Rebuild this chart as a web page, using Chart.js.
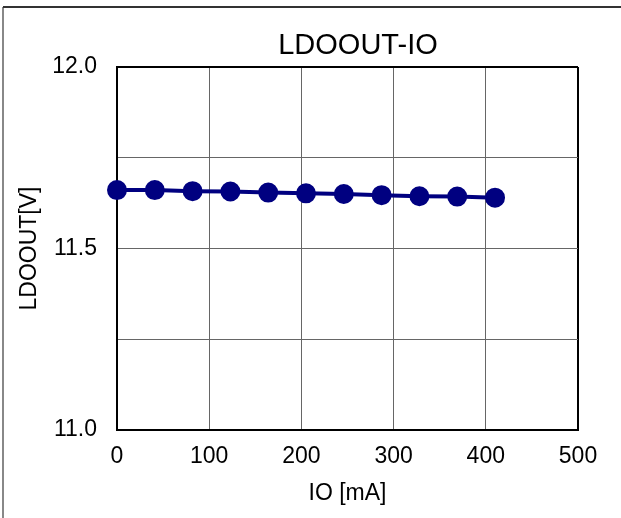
<!DOCTYPE html>
<html>
<head>
<meta charset="utf-8">
<script src="https://cdn.jsdelivr.net/npm/chart.js@4.4.1/dist/chart.umd.min.js"></script>
<style>
  body { margin: 0; background: #fff; }
  canvas { display: block; }
</style>
</head>
<body>
<canvas id="chart" width="621" height="518"></canvas>
<script>
const ioCurrent = [0, 41, 82, 123, 164, 205, 246, 287, 328, 369, 410];
const ldoOut = [11.661, 11.661, 11.658, 11.657, 11.654, 11.652, 11.650, 11.647, 11.644, 11.643, 11.640];
const yTickLabels = ['11.0', '11.5', '12.0'];
const chartTitle = 'LDOOUT-IO';

const FONT = "'Liberation Sans', Arial, sans-serif";
const navy = '#000080';

// frame round the figure + title text
const framePlugin = {
    id: 'frame',
    beforeDraw(chart) {
        const ctx = chart.ctx;
        ctx.save();
        ctx.lineWidth = 2;
        ctx.strokeStyle = '#888';
        ctx.beginPath();
        ctx.moveTo(3, 7);
        ctx.lineTo(3, 518);
        ctx.stroke();
        ctx.strokeStyle = '#333';
        ctx.beginPath();
        ctx.moveTo(3, 7);
        ctx.lineTo(621, 7);
        ctx.stroke();
        ctx.restore();
    },
    afterDraw(chart) {
        const ctx = chart.ctx;
        ctx.save();
        ctx.fillStyle = '#000';
        ctx.font = '29px ' + FONT;
        ctx.textAlign = 'center';
        ctx.textBaseline = 'alphabetic';
        ctx.fillText(chartTitle, 358, 54);
        ctx.restore();
    }
};

const edgeColor = (ctx, max) => ctx.tick && ctx.tick.value === max ? '#000' : '#666';
const edgeWidth = (ctx, max) => ctx.tick && ctx.tick.value === max ? 2 : 1;

new Chart(document.querySelector('#chart'), {
    type: 'scatter',
    data: {
        datasets: [{
            data: ioCurrent.map((x, i) => ({ x: x, y: ldoOut[i] })),
            showLine: true,
            borderColor: navy,
            backgroundColor: navy,
            borderWidth: 4,
            pointRadius: 8,
            pointBackgroundColor: navy,
            pointBorderColor: navy,
            clip: false
        }]
    },
    options: {
        responsive: false,
        animation: false,
        events: [],
        layout: { padding: { top: 67, right: 43, left: 0, bottom: 0 } },
        plugins: { legend: { display: false }, tooltip: { enabled: false } },
        scales: {
            x: {
                type: 'linear',
                min: 0,
                max: 500,
                ticks: { stepSize: 100, color: '#000', padding: 13, font: { family: FONT, size: 23 } },
                grid: {
                    drawTicks: false,
                    color: c => edgeColor(c, 500),
                    lineWidth: c => edgeWidth(c, 500)
                },
                border: { color: '#000', width: 2 },
                title: {
                    display: true, text: 'IO [mA]', color: '#000',
                    font: { family: FONT, size: 23 }, padding: { top: 0, bottom: 11 }
                },
                afterFit: s => { s.height = 88; }
            },
            y: {
                min: 11,
                max: 12,
                ticks: {
                    stepSize: 0.25, color: '#000', padding: 20,
                    font: { family: FONT, size: 23 },
                    callback: v => yTickLabels.find(t => Math.abs(parseFloat(t) - v) < 1e-6) || ''
                },
                grid: {
                    drawTicks: false,
                    color: c => edgeColor(c, 12),
                    lineWidth: c => edgeWidth(c, 12)
                },
                border: { color: '#000', width: 2 },
                title: {
                    display: true, text: 'LDOOUT[V]', color: '#000',
                    font: { family: FONT, size: 23 }, padding: { top: 16, bottom: 0 }
                },
                afterFit: s => { s.width = 117; }
            }
        }
    },
    plugins: [framePlugin]
});
</script>
</body>
</html>
